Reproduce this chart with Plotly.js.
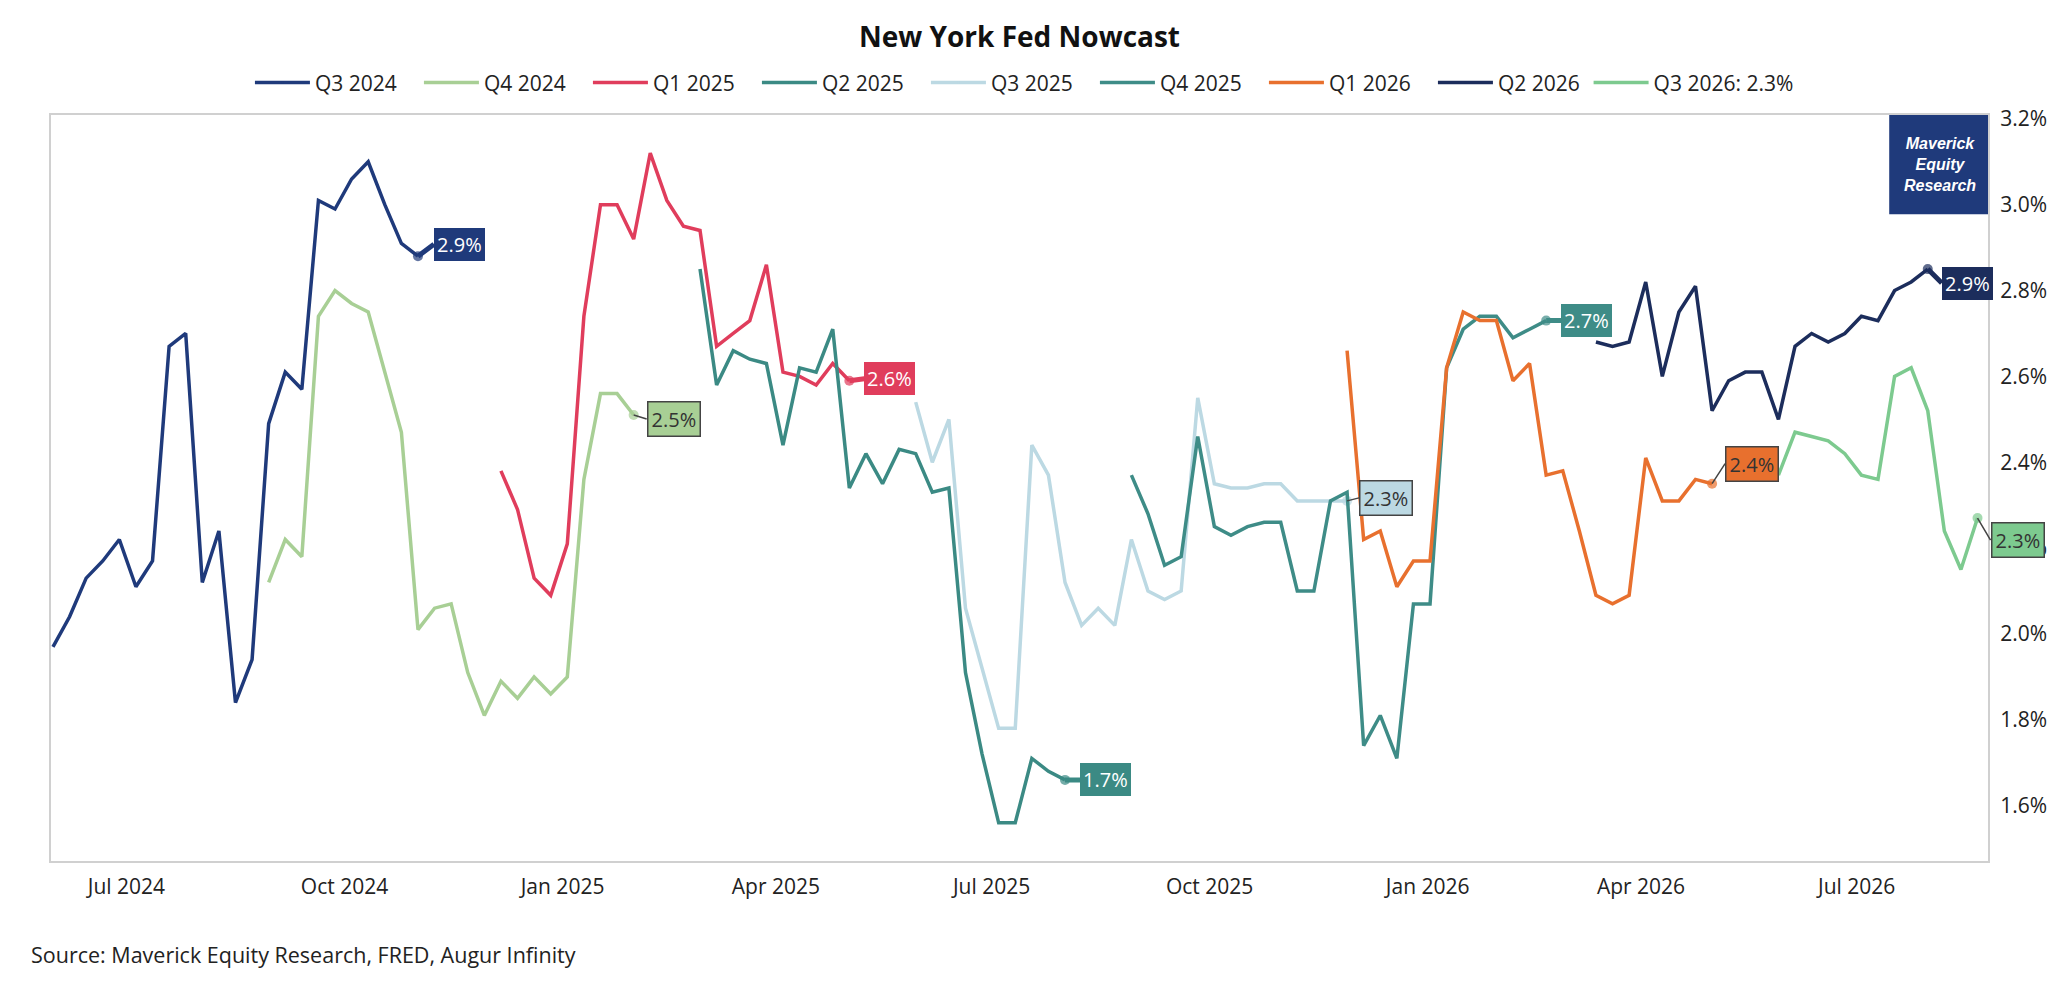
<!DOCTYPE html>
<html>
<head>
<meta charset="utf-8">
<script src="https://cdn.plot.ly/plotly-3.0.1.min.js"></script>
<style>
  html, body { margin: 0; padding: 0; background: #ffffff; }
  #chart { width: 2071px; height: 982px; }
</style>
</head>
<body>
<div id="chart"></div>
<script>
// weekly nowcast readings, first week is 2024-05-31
const firstWeek = '2024-05-31';

const seriesNames = ['Q3 2024', 'Q4 2024', 'Q1 2025', 'Q2 2025', 'Q3 2025', 'Q4 2025', 'Q1 2026', 'Q2 2026', 'Q3 2026: 2.3%'];
// week index where each quarter's nowcast starts
const seriesStart = [0, 13, 27, 39, 52, 65, 78, 93, 104];

const q3_2024 = [1.97, 2.04, 2.13, 2.17, 2.22, 2.11, 2.17, 2.67, 2.70, 2.12, 2.24, 1.84, 1.94, 2.49, 2.61, 2.57, 3.01, 2.99, 3.06, 3.10, 3.00, 2.91, 2.88];
const q4_2024 = [2.12, 2.22, 2.18, 2.74, 2.80, 2.77, 2.75, 2.61, 2.47, 2.01, 2.06, 2.07, 1.91, 1.81, 1.89, 1.85, 1.90, 1.86, 1.90, 2.36, 2.56, 2.56, 2.51];
const q1_2025 = [2.38, 2.29, 2.13, 2.09, 2.21, 2.74, 3.00, 3.00, 2.92, 3.12, 3.01, 2.95, 2.94, 2.67, 2.70, 2.73, 2.86, 2.61, 2.60, 2.58, 2.63, 2.59];
const q2_2025 = [2.85, 2.58, 2.66, 2.64, 2.63, 2.44, 2.62, 2.61, 2.71, 2.34, 2.42, 2.35, 2.43, 2.42, 2.33, 2.34, 1.91, 1.72, 1.56, 1.56, 1.71, 1.68, 1.66];
const q3_2025 = [2.54, 2.40, 2.50, 2.06, 1.92, 1.78, 1.78, 2.44, 2.37, 2.12, 2.02, 2.06, 2.02, 2.22, 2.10, 2.08, 2.10, 2.55, 2.35, 2.34, 2.34, 2.35, 2.35, 2.31, 2.31, 2.31, 2.31];
const q4_2025 = [2.37, 2.28, 2.16, 2.18, 2.46, 2.25, 2.23, 2.25, 2.26, 2.26, 2.10, 2.10, 2.31, 2.33, 1.74, 1.81, 1.71, 2.07, 2.07, 2.62, 2.71, 2.74, 2.74, 2.69, 2.71, 2.73];
const q1_2026 = [2.66, 2.22, 2.24, 2.11, 2.17, 2.17, 2.62, 2.75, 2.73, 2.73, 2.59, 2.63, 2.37, 2.38, 2.24, 2.09, 2.07, 2.09, 2.41, 2.31, 2.31, 2.36, 2.35];
const q2_2026 = [2.68, 2.67, 2.68, 2.82, 2.60, 2.75, 2.81, 2.52, 2.59, 2.61, 2.61, 2.50, 2.67, 2.70, 2.68, 2.70, 2.74, 2.73, 2.80, 2.82, 2.85];
const q3_2026 = [2.37, 2.47, 2.46, 2.45, 2.42, 2.37, 2.36, 2.60, 2.62, 2.52, 2.24, 2.15, 2.27];

const lastLabels = ['2.9%', '2.5%', '2.6%', '1.7%', '2.3%', '2.7%', '2.4%', '2.9%', '2.3%'];

const yTicks = [1.6, 1.8, 2.0, 2.2, 2.4, 2.6, 2.8, 3.0, 3.2];
const yTickText = yTicks.map(v => v.toFixed(1) + '%');

const allValues = [q3_2024, q4_2024, q1_2025, q2_2025, q3_2025, q4_2025, q1_2026, q2_2026, q3_2026];

// styles
const colors = ['#1f3a7b', '#a8cf95', '#e03d5c', '#3b8a84', '#bcd9e3', '#3e8c87', '#e8702e', '#1c2d5c', '#7dca8f'];
const boxed = [false, true, false, false, true, false, true, false, true];
const labelOffsets = [[16, -12], [13, 4], [15, -2], [15, 0], [12, -3], [15, 0], [13, -20], [14, 14], [13, 22]];

function weekDate(i) {
  const base = Date.parse(firstWeek + 'T00:00:00Z');
  return new Date(base + i * 7 * 86400000).toISOString().slice(0, 10);
}

const traces = [];
const annotations = [];

for (let s = 0; s < allValues.length; s++) {
  const vals = allValues[s];
  const xs = vals.map((v, k) => weekDate(seriesStart[s] + k));
  const sizes = vals.map((v, k) => k == vals.length - 1 ? 10 : 0);

  traces.push({
    x: xs,
    y: vals,
    name: seriesNames[s],
    // the long last entry sits in its own legend so it is not clipped
    legend: s == allValues.length - 1 ? 'legend2' : 'legend',
    type: 'scatter',
    mode: 'lines+markers',
    line: {color: colors[s], width: 3.5},
    marker: {color: colors[s], size: sizes, line: {width: 0}},
    cliponaxis: false,
    hoverinfo: 'skip'
  });

  annotations.push({
    x: xs[xs.length - 1],
    y: vals[vals.length - 1],
    xref: 'x', yref: 'y',
    text: lastLabels[s],
    showarrow: true,
    arrowhead: 0,
    arrowwidth: boxed[s] ? 1.5 : 5,
    arrowcolor: boxed[s] ? '#444444' : colors[s],
    ax: labelOffsets[s][0],
    ay: labelOffsets[s][1],
    xanchor: 'left',
    yanchor: 'middle',
    bgcolor: colors[s],
    bordercolor: boxed[s] ? '#444444' : colors[s],
    borderwidth: boxed[s] ? 1.5 : 0,
    borderpad: 3,
    font: {family: 'Open Sans', size: 20, color: boxed[s] ? '#333333' : '#ffffff'}
  });
}

// logo box
annotations.push({
  xref: 'paper', yref: 'paper',
  x: 0.975, y: 0.933,
  xanchor: 'center', yanchor: 'middle',
  showarrow: false,
  text: '<b><i>Maverick<br>Equity<br>Research</i></b>',
  font: {family: 'Liberation Sans, Arial', size: 16, color: '#ffffff'}
});

// source line
annotations.push({
  xref: 'paper', yref: 'paper',
  x: -0.0114, y: -0.126,
  xanchor: 'left', yanchor: 'middle',
  showarrow: false,
  text: 'Source: Maverick Equity Research, FRED, Augur Infinity',
  font: {family: 'Open Sans', size: 21.5, color: '#222222'}
});

const legendFont = {family: 'Open Sans', size: 21, color: '#222222'};

const layout = {
  width: 2071,
  height: 982,
  margin: {l: 51, r: 83, t: 115, b: 121},
  paper_bgcolor: '#ffffff',
  plot_bgcolor: '#ffffff',
  font: {family: 'Open Sans', size: 21, color: '#222222'},
  title: {
    text: 'New York Fed Nowcast',
    font: {family: 'Open Sans', size: 28, weight: 700, color: '#111111'},
    x: 0.5, xref: 'paper', xanchor: 'center',
    y: 0.962, yref: 'container', yanchor: 'middle'
  },
  showlegend: true,
  legend: {
    orientation: 'h',
    x: 0.1027, xanchor: 'left',
    y: 1.043, yanchor: 'middle',
    font: legendFont,
    itemwidth: 55,
    entrywidth: 99,
    entrywidthmode: 'pixels',
    bgcolor: 'rgba(0,0,0,0)'
  },
  legend2: {
    orientation: 'h',
    x: 0.7938, xanchor: 'left',
    y: 1.043, yanchor: 'middle',
    font: legendFont,
    itemwidth: 55,
    bgcolor: 'rgba(0,0,0,0)'
  },
  xaxis: {
    type: 'date',
    range: ['2024-05-30 04:00', '2026-08-25 10:00'],
    tick0: '2024-07-01',
    dtick: 'M3',
    tickformat: '%b %Y',
    ticks: '',
    ticklabelstandoff: 6,
    showgrid: false,
    zeroline: false,
    showline: true,
    mirror: true,
    linecolor: '#d0d0d0',
    linewidth: 2,
    tickfont: {family: 'Open Sans', size: 21, color: '#222222'}
  },
  yaxis: {
    side: 'right',
    range: [1.471, 3.209],
    tickmode: 'array',
    tickvals: yTicks,
    ticktext: yTickText,
    ticks: '',
    ticklabelstandoff: 6,
    showgrid: false,
    zeroline: false,
    showline: true,
    mirror: true,
    linecolor: '#d0d0d0',
    linewidth: 2,
    tickfont: {family: 'Open Sans', size: 21, color: '#222222'}
  },
  shapes: [{
    type: 'rect',
    xref: 'paper', yref: 'paper',
    x0: 0.949, x1: 1.0, y0: 0.867, y1: 1.0,
    fillcolor: '#1f3a7b',
    line: {width: 0},
    layer: 'above'
  }],
  annotations: annotations
};

Plotly.newPlot('chart', traces, layout, {displayModeBar: false, staticPlot: true});
</script>
</body>
</html>
